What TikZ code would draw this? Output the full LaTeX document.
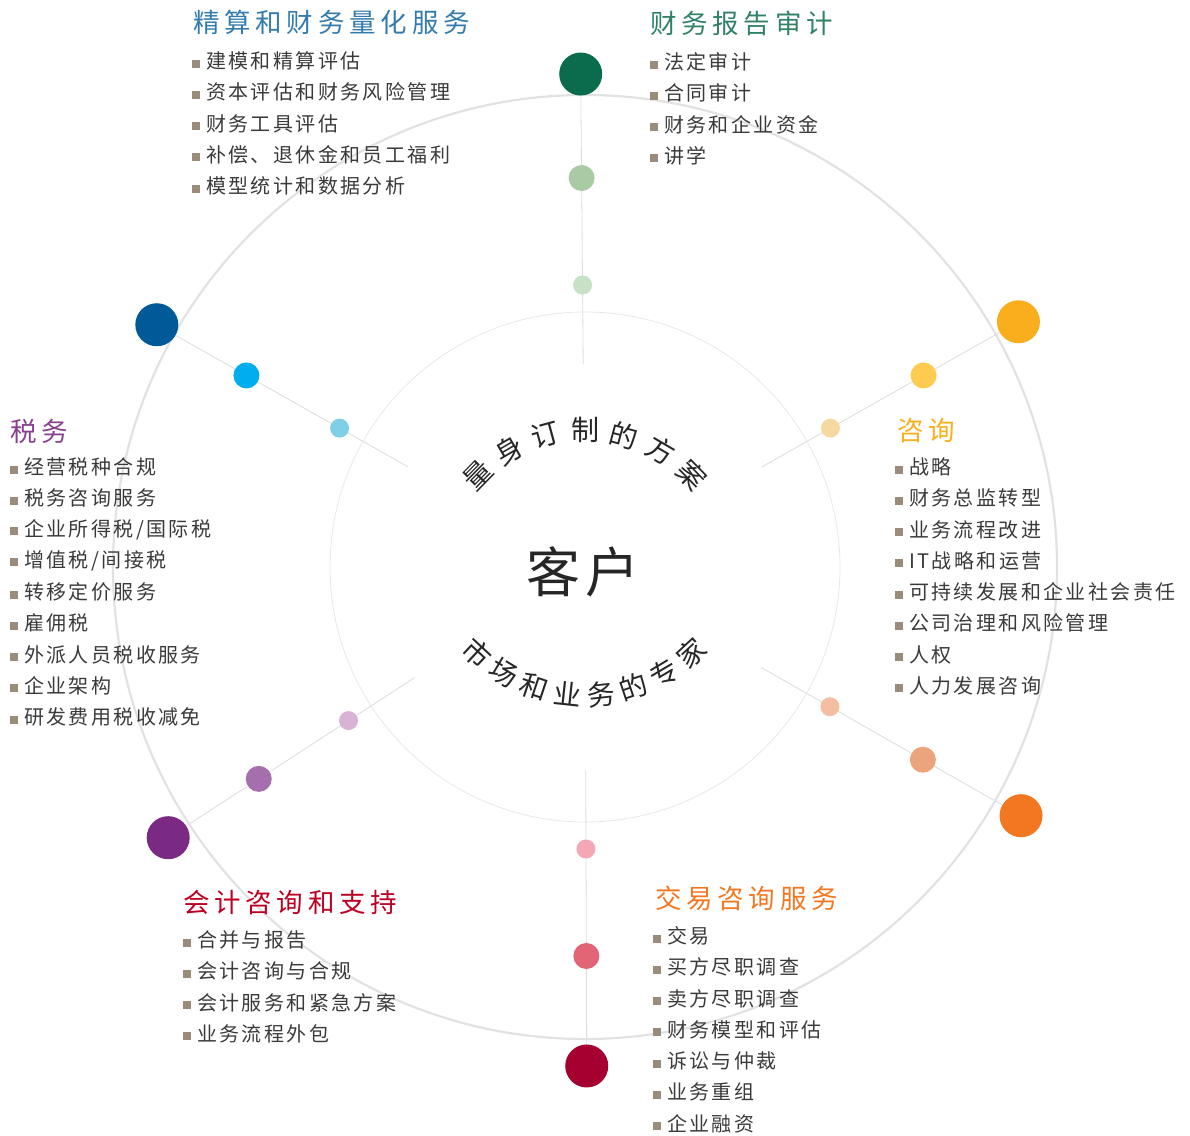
\documentclass[tikz,border=0pt]{standalone}
\usepackage{fontspec}
\setmainfont{Noto Sans CJK SC}
\usetikzlibrary{calc,backgrounds}

\definecolor{ring}{HTML}{E2E2E2}
\definecolor{raygray}{HTML}{DCDCDC}
\definecolor{txt}{HTML}{3A3A3A}
\definecolor{bulcol}{HTML}{9A8B7A}
% big / middle / small dot colours per branch
\definecolor{audA}{HTML}{0B6B4D}\definecolor{audB}{HTML}{A8CBA3}\definecolor{audC}{HTML}{C6E1C6}
\definecolor{actA}{HTML}{005A98}\definecolor{actB}{HTML}{00AEEF}\definecolor{actC}{HTML}{7FD0E6}
\definecolor{conA}{HTML}{F9AE1D}\definecolor{conB}{HTML}{FECB50}\definecolor{conC}{HTML}{F5D9A0}
\definecolor{taxA}{HTML}{7B2A83}\definecolor{taxB}{HTML}{A56FAE}\definecolor{taxC}{HTML}{DAB2D6}
\definecolor{dealA}{HTML}{F37721}\definecolor{dealB}{HTML}{EDA37C}\definecolor{dealC}{HTML}{F3BEA2}
\definecolor{accA}{HTML}{A5002F}\definecolor{accB}{HTML}{E16575}\definecolor{accC}{HTML}{F4A8B5}

\newcommand\sqbullet{\textcolor{bulcol}{\raisebox{1pt}{\rule{8pt}{8pt}}}\hspace{6pt}}

\begin{document}
\begin{tikzpicture}[x=1pt,y=1pt,
    dot/.style={circle,inner sep=0pt,minimum size=#1},
    ray/.style={draw=raygray,line width=0.8pt},
    title/.style={anchor=west,inner sep=0pt,font=\fontsize{26.5}{26}\selectfont\addfontfeature{LetterSpace=18}},
    entry/.style={anchor=west,inner sep=0pt,text=txt,font=\fontsize{20}{20}\selectfont\addfontfeature{LetterSpace=12}},
    arcch/.style={inner sep=0pt,text=black!85,font=\fontsize{28}{28}\selectfont}]
  \useasboundingbox (0,0) rectangle (1190,1135);
  \coordinate (c) at (585,568);

  \draw[ring,line width=2.2pt] (c) circle [radius=472];
  \draw[ring!80,line width=0.8pt] (c) circle [radius=255];

  \foreach \a/\r/\n in {90.5/493/aud,150.5/492/act,29.5/498/con,213/497/tax,-29.7/502/deal,270.2/499/acc} {
    \node[dot=43pt,fill=\n A] (\n1) at ($(c)+(\a:\r)$) {};
    \node[dot=26pt,fill=\n B] (\n2) at ($(c)+(\a:389)$) {};
    \node[dot=19pt,fill=\n C] (\n3) at ($(c)+(\a:282)$) {};
    \coordinate (\n0) at ($(c)+(\a:203)$);
    \begin{pgfonlayer}{background}
      \draw[ray] (\n1) -- (\n0);
    \end{pgfonlayer}
  }

  \node[inner sep=0pt,text=black!85,font=\fontsize{54}{54}\selectfont\addfontfeature{LetterSpace=10}] (client) at (583,563) {客户};

  \foreach[count=\i] \ch in {量,身,订,制,的,方,案} {
    \pgfmathsetmacro\ang{135.6-15.2*(\i-1)}
    \node[arcch,rotate=\ang-90] (up\i) at ($(585,555)+(\ang:150)$) {\ch};
  }
  \foreach[count=\i] \ch in {市,场,和,业,务,的,专,家} {
    \pgfmathsetmacro\ang{227+12.29*(\i-1)}
    \node[arcch,rotate=\ang+90] (low\i) at ($(584,597)+(\ang:157)$) {\ch};
  }

  \node[title,text=audA!85!white] (audtitle) at (650,1112) {财务报告审计};
  \node[title,text=actA!80!white] (acttitle) at (193,1113) {精算和财务量化服务};
  \node[title,text=conA] (contitle) at (897,704) {咨询};
  \node[title,text=taxA!90!white] (taxtitle) at (10,704) {税务};
  \node[title,text=dealA] (dealtitle) at (655,237) {交易咨询服务};
  \node[title,text=accA!75!red] (acctitle) at (183,232) {会计咨询和支持};

  \foreach[count=\i] \t in {法定审计,合同审计,财务和企业资金,讲学}
    \node[entry] (aud\i) at (650,{1073-31.25*(\i-1)}) {\sqbullet\t};
  \foreach[count=\i] \t in {建模和精算评估,资本评估和财务风险管理,财务工具评估,补偿、退休金和员工福利,模型统计和数据分析}
    \node[entry] (act\i) at (192,{1074-31.25*(\i-1)}) {\sqbullet\t};
  \foreach[count=\i] \t in {战略,财务总监转型,业务流程改进,IT战略和运营,可持续发展和企业社会责任,公司治理和风险管理,人权,人力发展咨询}
    \node[entry] (con\i) at (895,{668-31.25*(\i-1)}) {\sqbullet\t};
  \foreach[count=\i] \t in {经营税种合规,税务咨询服务,{企业所得税/国际税},{增值税/间接税},转移定价服务,雇佣税,外派人员税收服务,企业架构,研发费用税收减免}
    \node[entry] (tax\i) at (10,{668-31.25*(\i-1)}) {\sqbullet\t};
  \foreach[count=\i] \t in {交易,买方尽职调查,卖方尽职调查,财务模型和评估,诉讼与仲裁,业务重组,企业融资}
    \node[entry] (deal\i) at (653,{199-31.25*(\i-1)}) {\sqbullet\t};
  \foreach[count=\i] \t in {合并与报告,会计咨询与合规,会计服务和紧急方案,业务流程外包}
    \node[entry] (acc\i) at (183,{195-31.25*(\i-1)}) {\sqbullet\t};
\end{tikzpicture}
\end{document}
